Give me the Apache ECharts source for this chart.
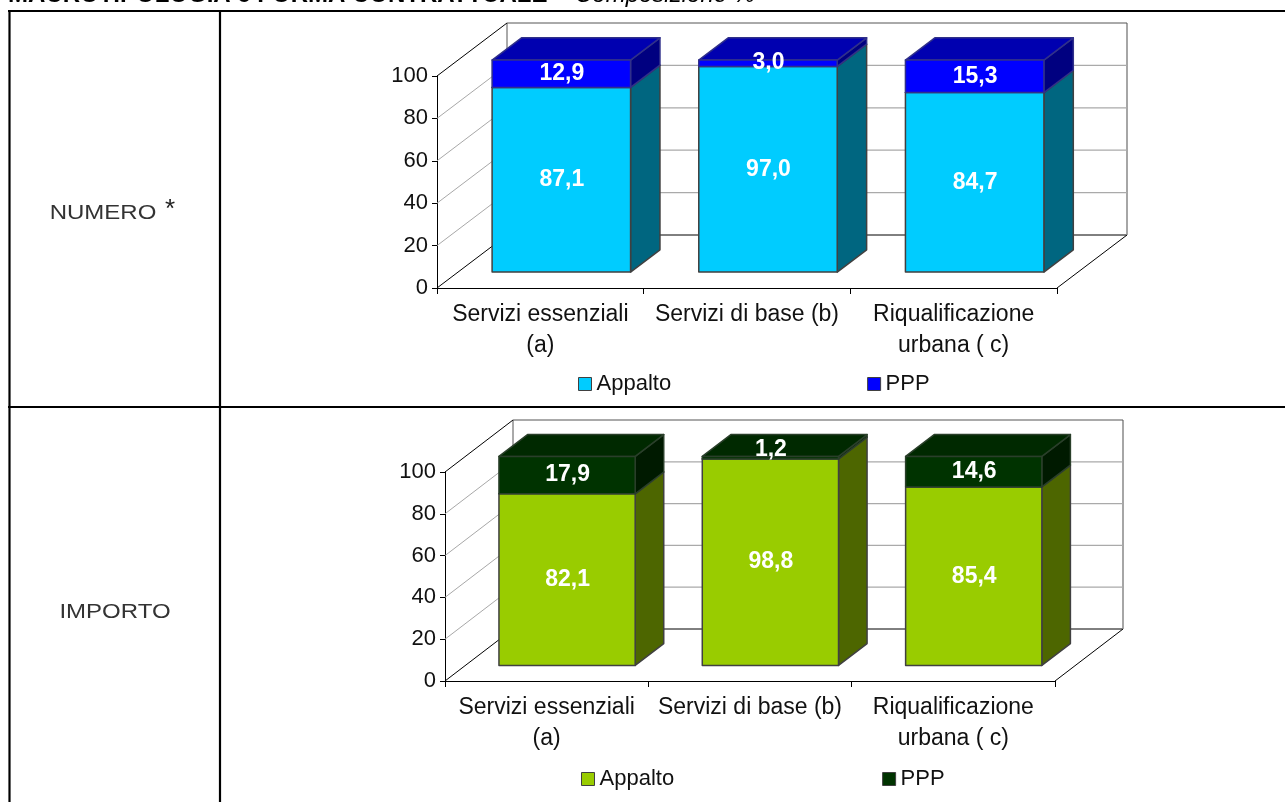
<!DOCTYPE html>
<html><head><meta charset="utf-8">
<style>html,body{margin:0;padding:0;background:#fff;overflow:hidden}#c{width:1285px;height:802px}</style>
<script src="https://cdn.jsdelivr.net/npm/echarts@6/dist/echarts.min.js"></script>
</head><body><div id="c"></div>
<script>
const categories = ['Servizi essenziali\n(a)', 'Servizi di base (b)', 'Riqualificazione\nurbana ( c)'];
const yTicks = [0, 20, 40, 60, 80, 100];
const seriesNames = ['Appalto', 'PPP'];
const numeroAppalto = [87.1, 97.0, 84.7];
const numeroPPP = [12.9, 3.0, 15.3];
const importoAppalto = [82.1, 98.8, 85.4];
const importoPPP = [17.9, 1.2, 14.6];
const titleBold = 'MACROTIPOLOGIA e FORMA CONTRATTUALE -';
const titleItalic = 'Composizione %';
const rowLabels = ['NUMERO', 'IMPORTO'];
const rowMark = '*';

const FONT = '"Liberation Sans", Arial, sans-serif';
const panels = [
  {grid:{left:437,top:76,width:620,height:212}, dx:70, dy:53,
   a:numeroAppalto, p:numeroPPP,
   aCol:{front:'#00CCFF',top:'#00A3CC',side:'#006680',edge:'#404040'},
   pCol:{front:'#0000FF',top:'#0000B0',side:'#000080',edge:'#30308a'},
   legend:{left:578,top:373,itemGap:196}},
  {grid:{left:445,top:472,width:610,height:209}, dx:68, dy:52,
   a:importoAppalto, p:importoPPP,
   aCol:{front:'#99CC00',top:'#7AA300',side:'#4D6600',edge:'#404040'},
   pCol:{front:'#003300',top:'#002900',side:'#001A00',edge:'#2a3f2a'},
   legend:{left:581,top:768,itemGap:208}}
];
const depthStart = 0.3, depthSize = 0.42, barFrac = 0.67, EDGE = '#404040';
const fmt = v => v.toFixed(1).replace('.', ',');

function wallRender(panel){
  return function(params, api){
    const v = api.value(0);
    const cs = params.coordSys;
    const x0 = cs.x, x1 = cs.x + cs.width;
    const y = api.coord([0, v])[1];
    const {dx, dy} = panel;
    const isFloor = v === yTicks[0], isTop = v === yTicks[yTicks.length-1];
    const kids = [
      {type:'line',shape:{x1:x0,y1:y,x2:x0+dx,y2:y-dy},
       style:{stroke:(isFloor||isTop)?'#000':'#a8a8a8',lineWidth:1}},
      {type:'line',shape:{x1:x0+dx,y1:y-dy,x2:x1+dx,y2:y-dy},
       style:{stroke:isFloor?'#000':(isTop?'#555':'#aaa'),lineWidth:isTop||isFloor?1:1.2}}
    ];
    if(isFloor){
      const yTop = api.coord([0, yTicks[yTicks.length-1]])[1];
      kids.push({type:'line',shape:{x1:x1,y1:y,x2:x1+dx,y2:y-dy},style:{stroke:'#000',lineWidth:1}});
      kids.push({type:'line',shape:{x1:x0+dx,y1:y-dy,x2:x0+dx,y2:yTop-dy},style:{stroke:'#555',lineWidth:1}});
      kids.push({type:'line',shape:{x1:x1+dx,y1:y-dy,x2:x1+dx,y2:yTop-dy},style:{stroke:'#888',lineWidth:1.5}});
    }
    return {type:'group',children:kids};
  };
}
function barRender(panel, col){
  return function(params, api){
    const idx = api.value(0), lo = api.value(1), hi = api.value(2);
    const band = api.size([1,0])[0];
    const w = band*barFrac;
    const ox = panel.dx*depthStart, oy = panel.dy*depthStart;
    const bx = panel.dx*depthSize, by = panel.dy*depthSize;
    const c = api.coord([idx, lo]);
    const xl = c[0]-w/2+ox, xr = xl+w;
    const yb = c[1]-oy, yt = api.coord([idx, hi])[1]-oy;
    const edge = {stroke:col.edge,lineWidth:1.5,lineJoin:'round'};
    const val = hi-lo;
    const nudge = val<2 ? -8 : val<5 ? -1 : 0;
    return {type:'group',children:[
      {type:'polygon',shape:{points:[[xr,yb],[xr+bx,yb-by],[xr+bx,yt-by],[xr,yt]]},style:{fill:col.side,...edge}},
      {type:'polygon',shape:{points:[[xl,yt],[xl+bx,yt-by],[xr+bx,yt-by],[xr,yt]]},style:{fill:col.top,...edge}},
      {type:'rect',shape:{x:xl,y:yt,width:w,height:yb-yt},style:{fill:col.front,...edge}},
      {type:'text',style:{text:fmt(val),x:(xl+xr)/2+0.5,y:(yb+yt)/2+nudge,align:'center',verticalAlign:'middle',
        fill:'#fff',font:'bold 23px '+FONT}}
    ]};
  };
}
const grid=[], xAxis=[], yAxis=[], series=[], legend=[];
panels.forEach((pn,i)=>{
  grid.push(pn.grid);
  xAxis.push({type:'category',gridIndex:i,data:categories,
    axisLine:{lineStyle:{color:'#000',width:1}},
    axisTick:{show:true,alignWithLabel:false,length:6,lineStyle:{color:'#000'}},
    axisLabel:{interval:0,color:'#111',fontFamily:FONT,fontSize:23,lineHeight:31,margin:11}});
  yAxis.push({type:'value',gridIndex:i,min:0,max:100,interval:20,
    axisLine:{show:true,lineStyle:{color:'#000',width:1}},
    axisTick:{show:true,length:5,lineStyle:{color:'#000'}},
    splitLine:{show:false},
    axisLabel:{color:'#111',fontFamily:FONT,fontSize:22,margin:9}});
  series.push({type:'custom',name:'wall'+i,xAxisIndex:i,yAxisIndex:i,silent:true,z:1,clip:false,
    renderItem:wallRender(pn),encode:{y:0},data:yTicks.map(t=>[t])});
  series.push({type:'custom',name:seriesNames[0],xAxisIndex:i,yAxisIndex:i,z:2,clip:false,
    itemStyle:{color:pn.aCol.front},renderItem:barRender(pn,pn.aCol),encode:{x:0,y:[1,2]},
    data:pn.a.map((v,k)=>[k,0,v])});
  series.push({type:'custom',name:seriesNames[1],xAxisIndex:i,yAxisIndex:i,z:3,clip:false,
    itemStyle:{color:pn.pCol.front},renderItem:barRender(pn,pn.pCol),encode:{x:0,y:[1,2]},
    data:pn.p.map((v,k)=>[k,pn.a[k],+(pn.a[k]+v).toFixed(1)])});
  legend.push({show:true,orient:'horizontal',left:pn.legend.left,top:pn.legend.top,itemGap:pn.legend.itemGap,
    itemWidth:13,itemHeight:13,icon:'rect',selectedMode:false,padding:0,
    textStyle:{color:'#111',fontFamily:FONT,fontSize:22},
    data:[
      {name:seriesNames[0],itemStyle:{color:pn.aCol.front,borderColor:EDGE,borderWidth:1}},
      {name:seriesNames[1],itemStyle:{color:pn.pCol.front,borderColor:EDGE,borderWidth:1}}
    ]});
});
const rule=(x1,y1,x2,y2)=>({type:'line',silent:true,z:10,shape:{x1,y1,x2,y2},style:{stroke:'#000',lineWidth:2.2}});
const graphic=[
  rule(8,11,1285,11), rule(9.5,10,9.5,802), rule(220,10,220,802), rule(8,407,1285,407),
  {type:'text',z:10,style:{text:titleBold,x:8,y:-17,fill:'#000',font:'bold 24px '+FONT}},
  {type:'text',z:10,style:{text:titleItalic,x:575,y:-17,fill:'#000',font:'italic 24px '+FONT}},
  {type:'text',z:10,x:103,y:213,scaleX:1.2,style:{text:rowLabels[0],x:0,y:0,align:'center',verticalAlign:'middle',fill:'#333',font:'20px '+FONT}},
  {type:'text',z:10,x:170,y:210,style:{text:rowMark,x:0,y:0,align:'center',verticalAlign:'middle',fill:'#222',font:'26px '+FONT}},
  {type:'text',z:10,x:115,y:612,scaleX:1.2,style:{text:rowLabels[1],x:0,y:0,align:'center',verticalAlign:'middle',fill:'#333',font:'20px '+FONT}}
];
const chart=echarts.init(document.getElementById('c'),null,{renderer:'canvas'});
chart.setOption({animation:false,backgroundColor:'#fff',grid,xAxis,yAxis,series,legend,graphic,tooltip:{show:false}});
</script></body></html>
